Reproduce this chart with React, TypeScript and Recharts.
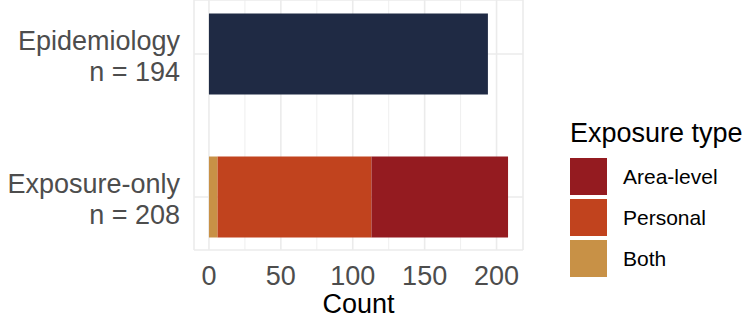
import React from "react";
import { BarChart, Bar, XAxis, YAxis, CartesianGrid, Legend } from "recharts";

const categories = ["Epidemiology", "Exposure-only"];
const countLabels = ["n = 194", "n = 208"];
const epidemiology = [194, 0];
const both = [0, 6];
const personal = [0, 107];
const areaLevel = [0, 95];
const xTicks = [0, 50, 100, 150, 200];
const minorTicks = [25, 75, 125, 175];
const legendOrder = ["Area-level", "Personal", "Both"];

const data = categories.map((c, i) => ({
  category: c,
  nLabel: countLabels[i],
  epi: epidemiology[i],
  both: both[i],
  personal: personal[i],
  area: areaLevel[i],
}));

const FONT = "'Liberation Sans', Arial, Helvetica, sans-serif";

const YTick = (props: any) => {
  const { x, y, payload, index } = props;
  const row = data.find((d) => d.category === payload.value) || data[index];
  return (
    <g>
      <text x={x - 14} y={y - 4} textAnchor="end" fontSize={27} fill="#4D4D4D" fontFamily={FONT}>
        {payload.value}
      </text>
      <text x={x - 14} y={y + 27} textAnchor="end" fontSize={27} fill="#4D4D4D" fontFamily={FONT}>
        {row ? row.nLabel : ""}
      </text>
    </g>
  );
};

const XTick = (props: any) => {
  const { x, y, payload } = props;
  return (
    <text x={x} y={y + 35} textAnchor="middle" fontSize={27} fill="#4D4D4D" fontFamily={FONT}>
      {payload.value}
    </text>
  );
};

const XLabel = (props: any) => {
  const vb = props.viewBox || {};
  return (
    <text x={vb.x + vb.width / 2} y={vb.y + 63} textAnchor="middle" fontSize={27} fill="#000" fontFamily={FONT}>
      Count
    </text>
  );
};

const LegendContent = (props: any) => {
  const items = (props.payload || [])
    .filter((p: any) => legendOrder.includes(p.value))
    .slice()
    .sort((a: any, b: any) => legendOrder.indexOf(a.value) - legendOrder.indexOf(b.value));
  return (
    <svg width={180} height={170} style={{ display: "block" }}>
      <text x={0} y={30} fontSize={27} fill="#000" fontFamily={FONT}>
        Exposure type
      </text>
      {items.map((it: any, i: number) => (
        <g key={it.value}>
          <rect x={0} y={46 + i * 41} width={37} height={37} fill={it.color} />
          <text x={53} y={46 + i * 41 + 26} fontSize={21} fill="#000" fontFamily={FONT}>
            {it.value}
          </text>
        </g>
      ))}
    </svg>
  );
};

export default function App() {
  return (
    <div style={{ position: "absolute", left: 0, top: 0, background: "#fff" }}>
      <BarChart
        width={749}
        height={320}
        data={data}
        layout="vertical"
        margin={{ top: 0, right: 226, left: 0, bottom: 0 }}
      >
        <CartesianGrid
          stroke="#EBEBEB"
          strokeWidth={0.8}
          horizontal={false}
          verticalValues={minorTicks}
        />
        <CartesianGrid stroke="#EBEBEB" strokeWidth={1.6} />
        <XAxis
          type="number"
          domain={[-10.4, 218.4]}
          ticks={xTicks}
          allowDataOverflow
          axisLine={false}
          tickLine={false}
          tickSize={0}
          tickMargin={0}
          height={70}
          tick={<XTick />}
          label={<XLabel />}
        />
        <YAxis
          type="category"
          dataKey="category"
          width={194}
          axisLine={false}
          tickLine={false}
          tickSize={0}
          tickMargin={0}
          padding={{ top: -17.5, bottom: -18.5 }}
          tick={<YTick />}
          interval={0}
        />
        <Legend
          layout="horizontal"
          verticalAlign="middle"
          align="center"
          content={<LegendContent />}
          wrapperStyle={{ left: 570, top: 112, width: 180, height: 170 }}
        />
        <Bar dataKey="epi" stackId="a" fill="#1F2A44" barSize={81} legendType="none" name="Epidemiology" isAnimationActive={false} />
        <Bar dataKey="both" stackId="a" fill="#C89146" barSize={81} name="Both" isAnimationActive={false} />
        <Bar dataKey="personal" stackId="a" fill="#C1431E" barSize={81} name="Personal" isAnimationActive={false} />
        <Bar dataKey="area" stackId="a" fill="#941B20" barSize={81} name="Area-level" isAnimationActive={false} />
      </BarChart>
    </div>
  );
}
